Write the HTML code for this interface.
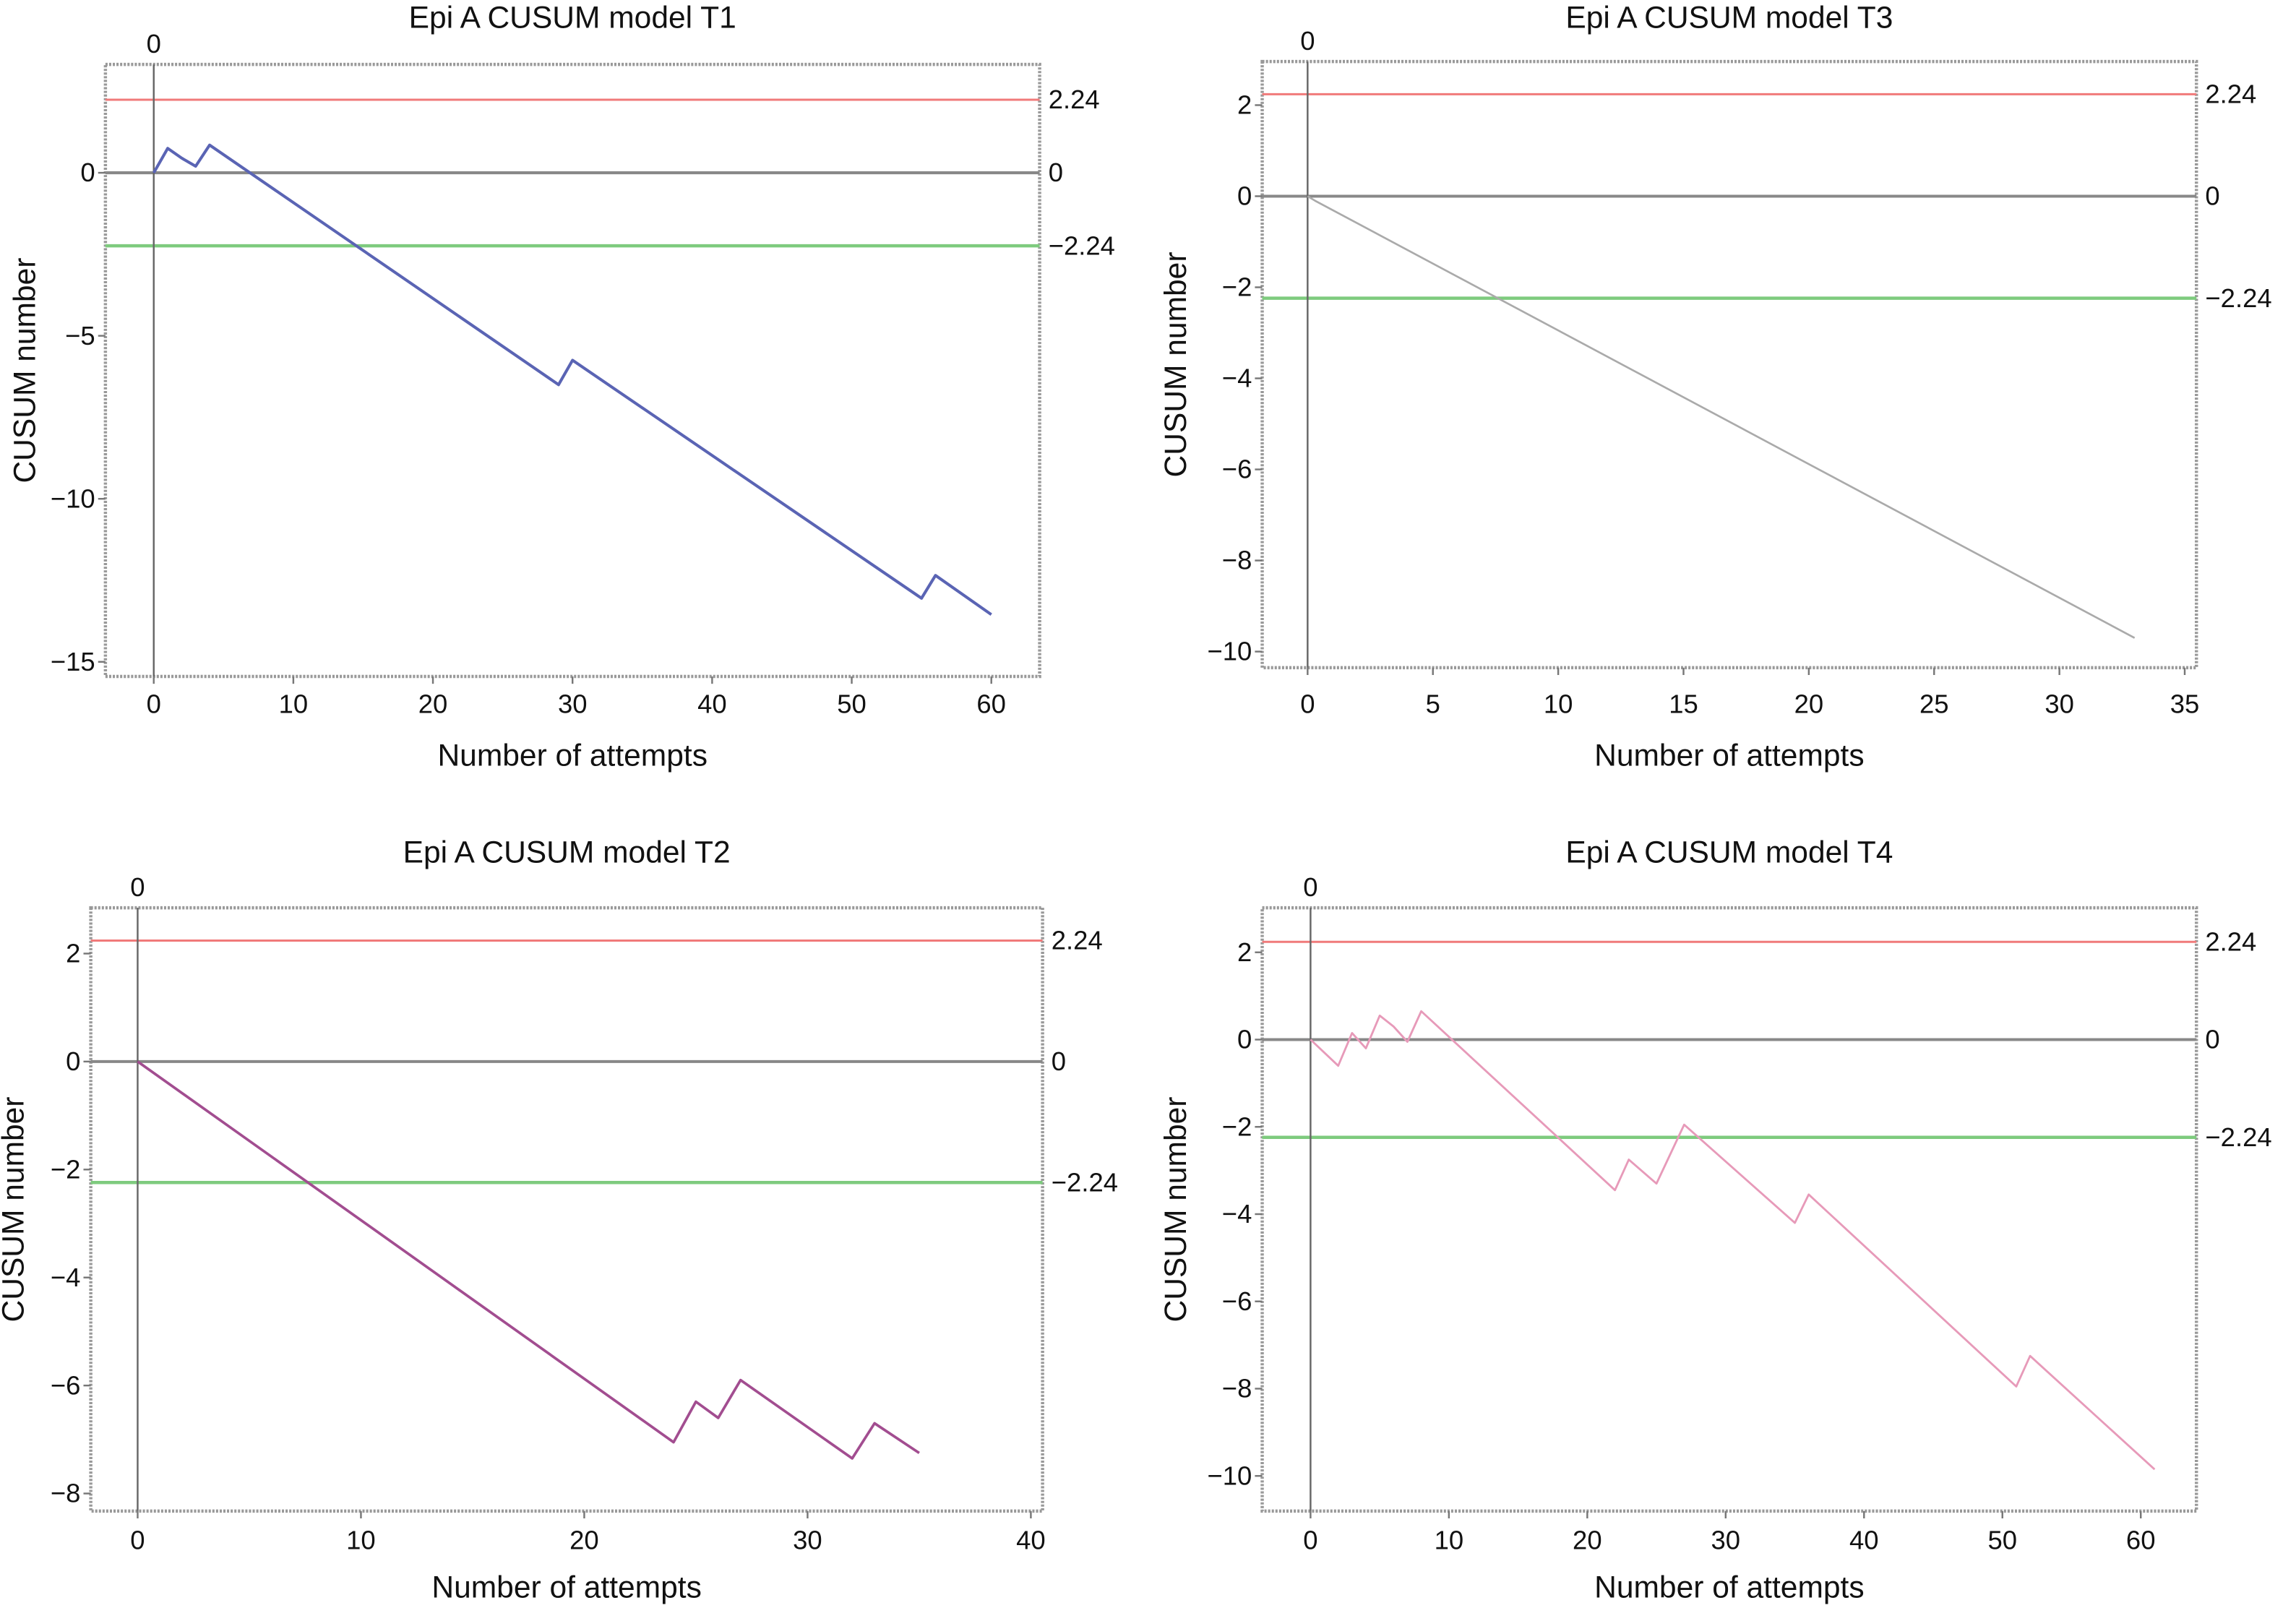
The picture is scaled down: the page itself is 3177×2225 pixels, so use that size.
<!DOCTYPE html>
<html><head><meta charset="utf-8"><style>
html,body{margin:0;padding:0;background:#fff;}
svg{display:block;}
text{font-family:"Liberation Sans",sans-serif;fill:#111;}
</style></head><body>
<svg id="chart" width="3177" height="2225" viewBox="0 0 1568 1098.2" preserveAspectRatio="none" xmlns="http://www.w3.org/2000/svg"></svg>
<script>
// T1 data
const t1Attempts = [0,1,2,3,4,29,30,55,56,60];
const t1Values = [0,0.75,0.45,0.2,0.85,-6.5,-5.75,-13.05,-12.35,-13.55];
const t1XTicks = [0,10,20,30,40,50,60];
const t1YTicks = [0,-5,-10,-15];
// T3 data
const t3Attempts = [0,0.3,33];
const t3Values = [0,-0.1,-9.7];
const t3XTicks = [0,5,10,15,20,25,30,35];
const t3YTicks = [2,0,-2,-4,-6,-8,-10];
// T2 data
const t2Attempts = [0,24,25,26,27,32,33,35];
const t2Values = [0,-7.05,-6.3,-6.6,-5.9,-7.35,-6.7,-7.25];
const t2XTicks = [0,10,20,30,40];
const t2YTicks = [2,0,-2,-4,-6,-8];
// T4 data
const t4Attempts = [0,2,3,4,5,6,7,8,22,23,25,27,35,36,51,52,61];
const t4Values = [0,-0.6,0.15,-0.2,0.55,0.3,-0.05,0.65,-3.45,-2.75,-3.3,-1.95,-4.2,-3.55,-7.95,-7.25,-9.85];
const t4XTicks = [0,10,20,30,40,50,60];
const t4YTicks = [2,0,-2,-4,-6,-8,-10];
const limitValues = [2.24,0,-2.24];
const limitLabels = ["2.24","0","\u22122.24"];

const svg = document.getElementById('chart');
const NS = 'http://www.w3.org/2000/svg';
function mk(tag, attrs, parent, text){
  const e = document.createElementNS(NS, tag);
  for (const k in attrs) e.setAttribute(k, attrs[k]);
  if (text !== undefined) e.textContent = text;
  (parent||svg).appendChild(e);
  return e;
}
function fmt(v){ return v<0 ? '\u2212'+Math.abs(v) : String(v); }

function panel(cfg){
  const g = mk('g', {});
  
  
  const sx = v => cfg.px0 + (v - cfg.x0) * (cfg.px1 - cfg.px0) / (cfg.x1 - cfg.x0);
  const sy = v => cfg.py0 + (v - cfg.y0) * (cfg.py1 - cfg.py0) / (cfg.y1 - cfg.y0);
  const L = cfg.left, R = cfg.right, T = cfg.top, B = cfg.bottom;
  const cx = (L+R)/2;
  const title = mk('text', {x:cx, y:cfg.titleY, 'font-size':21, 'text-anchor':'middle'}, g, cfg.title);
  
  
  const fr = mk('rect', {x:L, y:T, width:R-L, height:B-T, fill:'none', stroke:'#999', 'stroke-width':2.2, 'stroke-dasharray':'1.5 1'}, g);
  
  
  const colors = ['#f07a7a', '#888', '#7ecb7e'];
  const widths = [1.5, 2, 2.2];
  limitValues.forEach((v, i) => {
    const ln = mk('line', {x1:L, x2:R, y1:sy(v), y2:sy(v), stroke:colors[i], 'stroke-width':widths[i]}, g);
    
    
    const lb = mk('text', {x:R+6, y:sy(v)+6, 'font-size':18}, g, limitLabels[i]);
    
    
  });
  const vl = mk('line', {x1:sx(0), x2:sx(0), y1:T, y2:B, stroke:'#666', 'stroke-width':1.2}, g);
  
  
  const tz = mk('text', {x:sx(0), y:T-8, 'font-size':18, 'text-anchor':'middle'}, g, '0');
  
  
  cfg.xt.forEach(v => {
    const t = mk('line', {x1:sx(v), x2:sx(v), y1:B, y2:B+5, stroke:'#777', 'stroke-width':1.2}, g);
    
    
    const l = mk('text', {x:sx(v), y:cfg.tickY, 'font-size':18, 'text-anchor':'middle'}, g, fmt(v));
    
    
  });
  cfg.yt.forEach(v => {
    const t = mk('line', {x1:L-5, x2:L, y1:sy(v), y2:sy(v), stroke:'#777', 'stroke-width':1.2}, g);
    
    
    const l = mk('text', {x:L-7, y:sy(v)+6, 'font-size':18, 'text-anchor':'end'}, g, fmt(v));
    
    
  });
  const xl = mk('text', {x:cx, y:cfg.xlabY, 'font-size':21, 'text-anchor':'middle'}, g, 'Number of attempts');
  
  
  const ymid = (T+B)/2;
  const yx = cfg.ylabX;
  const yl = mk('text', {x:yx, y:ymid, 'font-size':21, 'text-anchor':'middle', transform:'rotate(-90 '+yx+' '+ymid+')'}, g, 'CUSUM number');
  
  
  const pts = cfg.xs.map((x, i) => sx(x).toFixed(2) + ',' + sy(cfg.ys[i]).toFixed(2)).join(' ');
  const pl = mk('polyline', {points:pts, fill:'none', stroke:cfg.color, 'stroke-width':cfg.sw, 'stroke-linejoin':'round'}, g);
  
  
}

panel({name:'panel-t1', title:'Epi A CUSUM model T1', left:72, right:710, top:44, bottom:462,
  titleY:19, tickY:487, xlabY:523, ylabX:24,
  x0:0, x1:60, px0:105, px1:677, y0:0, y1:-15, py0:118, py1:452,
  xs:t1Attempts, ys:t1Values, xt:t1XTicks, yt:t1YTicks, color:'#5a64b4', sw:2});
panel({name:'panel-t3', title:'Epi A CUSUM model T3', left:862, right:1500, top:42, bottom:456,
  titleY:19, tickY:487, xlabY:523, ylabX:810,
  x0:0, x1:35, px0:893, px1:1492, y0:0, y1:-10, py0:134, py1:445,
  xs:t3Attempts, ys:t3Values, xt:t3XTicks, yt:t3YTicks, color:'#aaaaaa', sw:1.3});
panel({name:'panel-t2', title:'Epi A CUSUM model T2', left:62, right:712, top:620, bottom:1032,
  titleY:589, tickY:1058, xlabY:1091, ylabX:16,
  x0:0, x1:40, px0:94, px1:704, y0:0, y1:-8, py0:725, py1:1020,
  xs:t2Attempts, ys:t2Values, xt:t2XTicks, yt:t2YTicks, color:'#a24d90', sw:1.8});
panel({name:'panel-t4', title:'Epi A CUSUM model T4', left:862, right:1500, top:620, bottom:1032,
  titleY:589, tickY:1058, xlabY:1091, ylabX:810,
  x0:0, x1:60, px0:895, px1:1462, y0:0, y1:-10, py0:710, py1:1008,
  xs:t4Attempts, ys:t4Values, xt:t4XTicks, yt:t4YTicks, color:'#e79ab9', sw:1.4});
</script>
</body></html>
